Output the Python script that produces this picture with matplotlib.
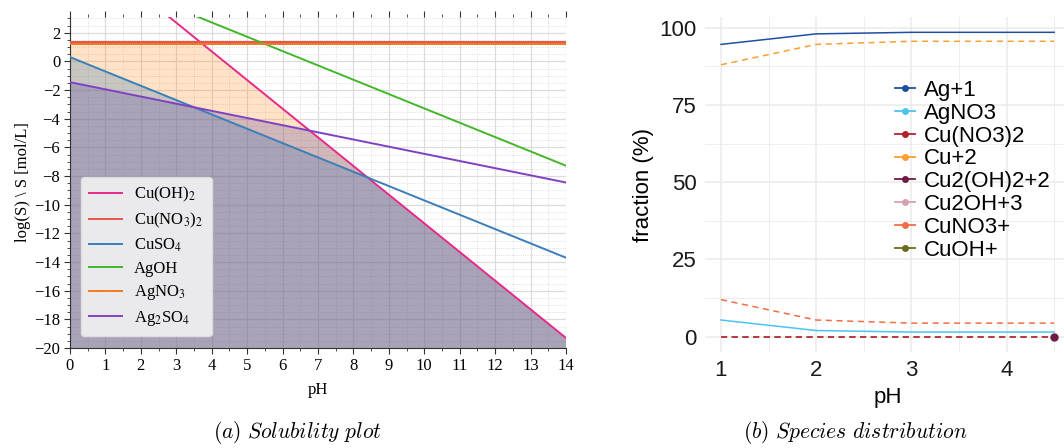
import numpy as np
import matplotlib.pyplot as plt
from matplotlib.ticker import MultipleLocator
from matplotlib.lines import Line2D
from matplotlib.transforms import TransformedPath

plt.rcParams['mathtext.fontset'] = 'stix'

# ---- (a) solubility lines: log S at pH 0 and pH 14
ph_ends = [0, 14]
compounds = ['Cu(OH)$_2$', 'Cu(NO$_3$)$_2$', 'CuSO$_4$', 'AgOH', 'AgNO$_3$', 'Ag$_2$SO$_4$']
cu_oh2 = [8.7, -19.3]
cu_no32 = [1.33, 1.33]
cu_so4 = [0.3, -13.7]
ag_oh = [6.72, -7.28]
ag_no3 = [1.19, 1.19]
ag2_so4 = [-1.45, -8.45]
sol_colors = ['#e7298a', '#e8554c', '#3a7fb8', '#44b62c', '#f07b22', '#8040c4']

# ---- (b) species distribution
ph_b = [1, 2, 3, 4.5]
ag_p1 = [94.6, 98.0, 98.5, 98.5]
agno3 = [5.4, 2.0, 1.5, 1.5]
cuno3_2 = [0.05, 0.05, 0.05, 0.05]
cu_p2 = [88.0, 94.6, 95.6, 95.6]
cu2oh2_ph = [4.5]
cu2oh2 = [0.0]
cu2oh_3 = [0.0, 0.0, 0.0, 0.0]
cuno3_p = [12.0, 5.4, 4.4, 4.4]
cuoh_p = [0.0, 0.0, 0.0, 0.0]
species = ['Ag+1', 'AgNO3', 'Cu(NO3)2', 'Cu+2', 'Cu2(OH)2+2', 'Cu2OH+3', 'CuNO3+', 'CuOH+']
sp_colors = ['#1f4f9e', '#4cc4f0', '#b5202e', '#f8a030', '#6e1a45', '#d6a0b0', '#f26d45', '#6b6b18']

fig = plt.figure(figsize=(10.64, 4.48), dpi=100)

# ================= left panel
ax = fig.add_axes([70/1064, 1-348/448, 496/1064, 331/448])
serif = 'Liberation Serif'

series = [cu_oh2, cu_no32, cu_so4, ag_oh, ag_no3, ag2_so4]
# region under Cu(OH)2 used to clip the shaded areas
lim = ax.fill_between(ph_ends, -20, cu_oh2, color='none', lw=0)
clip = TransformedPath(lim.get_paths()[0], ax.transData)
for vals, col, a in [(ag_no3, '#ff7f00', 0.22), (cu_so4, '#377eb8', 0.27), (ag2_so4, '#503c9b', 0.25)]:
    f = ax.fill_between(ph_ends, -20, vals, color=col, alpha=a, lw=0)
    f.set_clip_path(clip)

for vals, name, col in zip(series, compounds, sol_colors):
    lw = 2.2 if name.startswith('Cu(NO') else 1.4
    ax.plot(ph_ends, vals, color=col, lw=lw, zorder=3)

ax.set_xlim(0, 14)
ax.set_ylim(-20, 3.1)
ax.xaxis.set_major_locator(MultipleLocator(1))
ax.xaxis.set_minor_locator(MultipleLocator(0.5))
ax.yaxis.set_major_locator(MultipleLocator(2))
ax.yaxis.set_minor_locator(MultipleLocator(0.5))
ax.grid(which='major', color='#dcdcdc', lw=0.9)
ax.grid(which='minor', color='#d4d4d4', lw=0.6, ls=':')
ax.set_axisbelow(True)
for s in ['top', 'right']:
    ax.spines[s].set_visible(False)
for s in ['left', 'bottom']:
    ax.spines[s].set_color('#333333')
ax.tick_params(which='both', top=True, direction='out', color='#333333', labelsize=12, pad=3)
ax.tick_params(which='major', length=4)
ax.tick_params(which='minor', length=2)
for lab in ax.get_xticklabels() + ax.get_yticklabels():
    lab.set_family(serif)
ax.set_xlabel('pH', family=serif, fontsize=12, labelpad=6)
ax.set_ylabel(r'log(S) \ S [mol/L]', family=serif, fontsize=12, labelpad=2)
leg_handles = [Line2D([], [], color=c, lw=1.4) for c in sol_colors]
ax.legend(leg_handles, compounds, loc='lower left', prop={'family': serif, 'size': 12},
          facecolor='#f2f2f2', edgecolor='#e0e0e0', framealpha=0.9, handlelength=2.0,
          labelspacing=0.4, borderpad=0.5, handletextpad=0.7, bbox_to_anchor=(0.005, 0.01))

# ================= right panel
sans = 'Liberation Sans'
bx = fig.add_axes([705/1064, 1-352/448, 366/1064, 335/448])
bx.plot(ph_b, cuoh_p, color=sp_colors[7], lw=1.1, ls=(0, (4, 3)))
bx.plot(ph_b, cu2oh_3, color=sp_colors[5], lw=1.1, ls=(0, (4, 3)))
bx.plot(ph_b, cuno3_2, color=sp_colors[2], lw=1.1, ls=(0, (4, 3)))
bx.plot(ph_b, cuno3_p, color=sp_colors[6], lw=1.1, ls=(0, (4, 3)))
bx.plot(ph_b, cu_p2, color=sp_colors[3], lw=1.1, ls=(0, (4, 3)))
bx.plot(ph_b, agno3, color=sp_colors[1], lw=1.1)
bx.plot(ph_b, ag_p1, color=sp_colors[0], lw=1.1)
bx.plot(cu2oh2_ph, cu2oh2, 'o', color=sp_colors[4], ms=5, clip_on=False)

bx.set_xlim(0.832, 4.677)
bx.set_ylim(-4.95, 103.46)
bx.set_xticks([1, 2, 3, 4])
bx.set_xticks([1.5, 2.5, 3.5, 4.5], minor=True)
bx.set_yticks([0, 25, 50, 75, 100])
bx.set_yticks([12.5, 37.5, 62.5, 87.5], minor=True)
bx.grid(which='major', color='#ebebeb', lw=1.1)
bx.grid(which='minor', color='#ebebeb', lw=0.6)
bx.set_axisbelow(True)
for s in bx.spines.values():
    s.set_visible(False)
bx.tick_params(which='both', length=0, labelsize=16, pad=6, labelcolor='#1a1a1a')
for lab in bx.get_xticklabels() + bx.get_yticklabels():
    lab.set_family(sans)
bx.set_xlabel('pH', family=sans, fontsize=16, labelpad=4)
bx.set_ylabel('fraction (%)', family=sans, fontsize=16, labelpad=4)

handles = [Line2D([], [], color=c, lw=1.3, marker='o', ms=4) for c in sp_colors]
bx.legend(handles, species, loc='upper left', bbox_to_anchor=(884/1064, 1-69/448),
          bbox_transform=fig.transFigure, frameon=False, prop={'family': sans, 'size': 16},
          handlelength=0.9, handletextpad=0.4, labelspacing=0.08, borderpad=0)

# captions
fig.text(297/1064, 1-446/448, r'$\mathit{(a)\ Solubility\ plot}$', ha='center', va='bottom',
         fontsize=15.5, math_fontfamily='cm')
fig.text(855/1064, 1-446/448, r'$\mathit{(b)\ Species\ distribution}$', ha='center', va='bottom',
         fontsize=15.5, math_fontfamily='cm')

fig.savefig('out.png', dpi=100)
